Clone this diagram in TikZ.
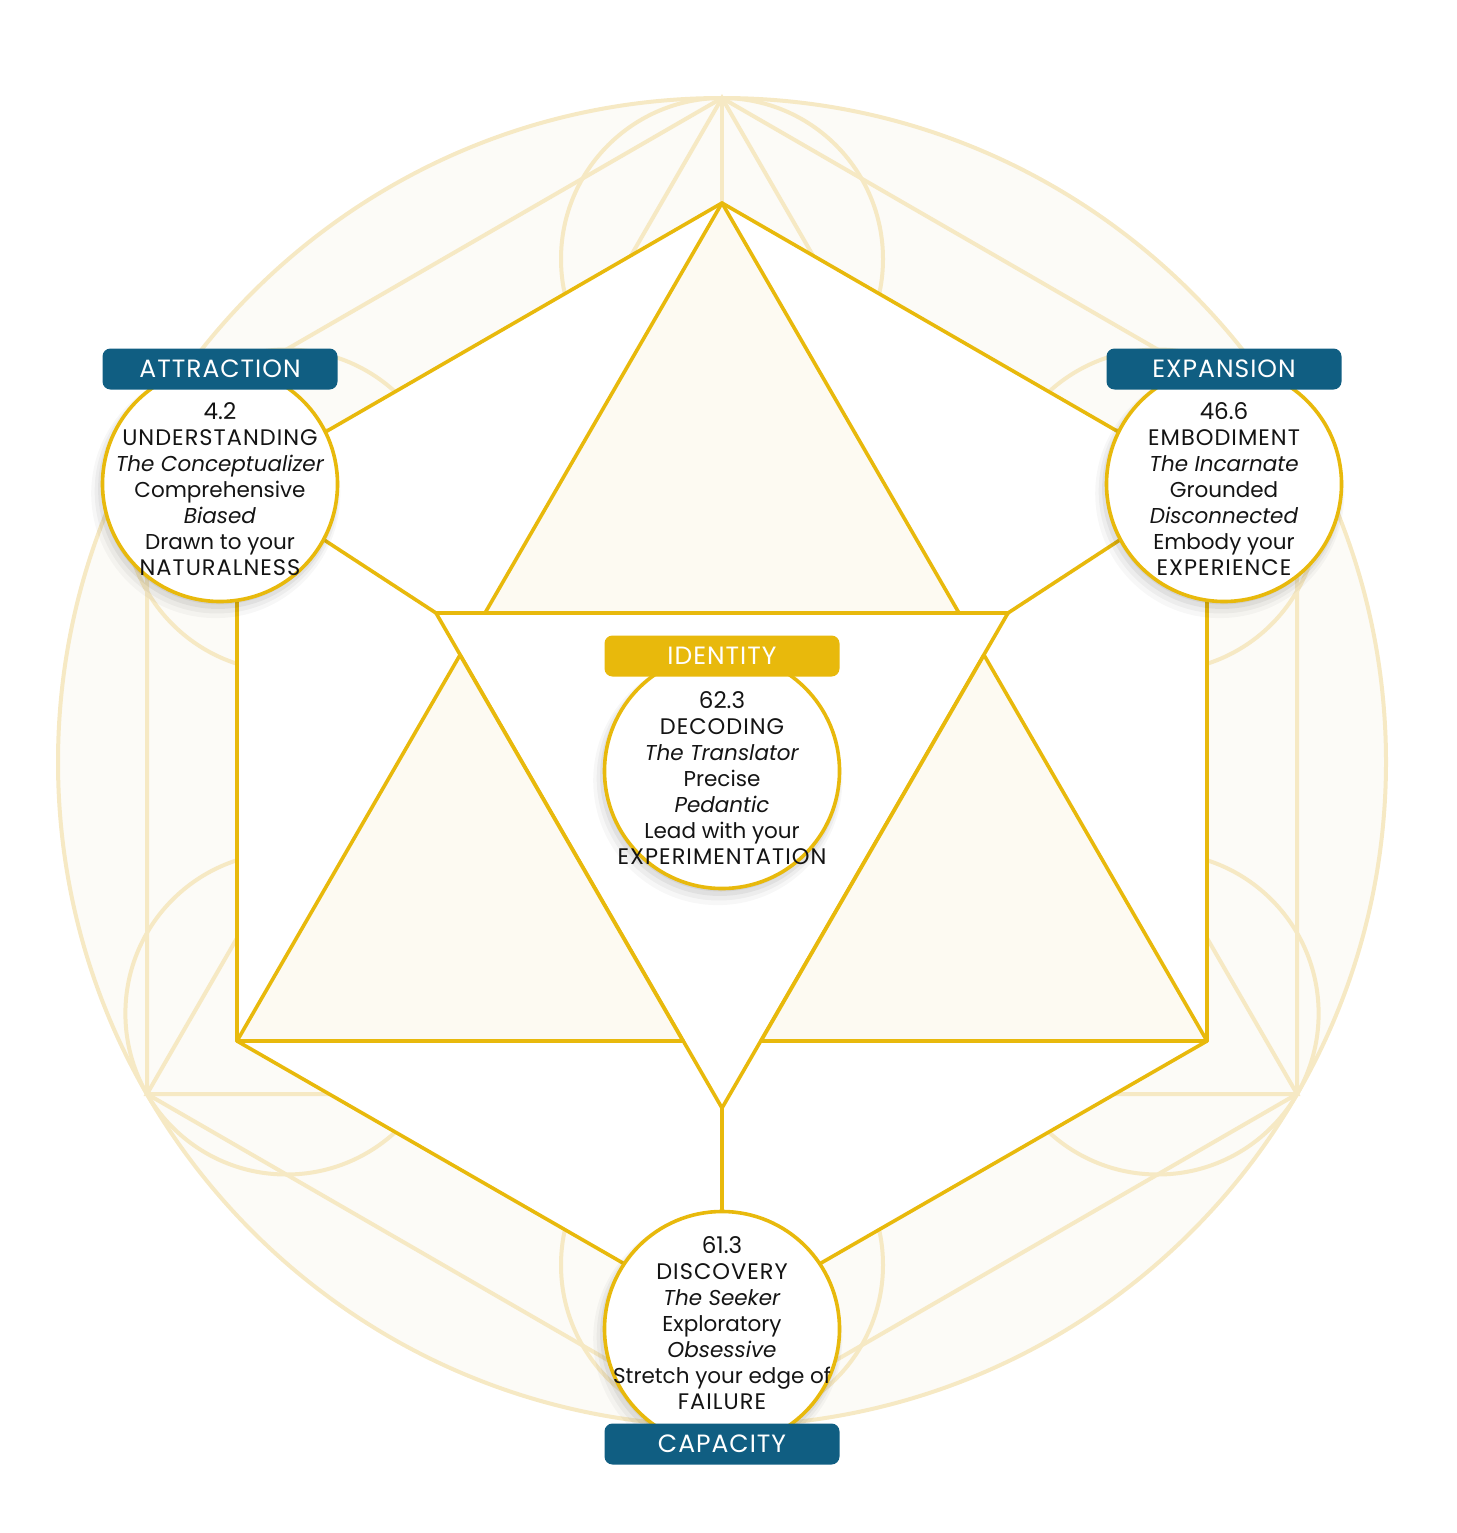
\documentclass[tikz,border=0pt]{standalone}
\usepackage{fontspec}
\setmainfont{Poppins}
\newfontfamily\capsfont[LetterSpace=4.5]{Poppins}
\newfontfamily\badgefont[LetterSpace=4]{Poppins}
\usepackage{tikz}
\usetikzlibrary{shadows,positioning}
\definecolor{gold}{RGB}{232,185,12}
\definecolor{palegold}{RGB}{246,233,196}
\definecolor{creamfill}{RGB}{252,251,247}
\definecolor{trifill}{RGB}{253,250,242}
\definecolor{petrol}{RGB}{16,94,130}
\definecolor{ink}{RGB}{20,20,20}
\newcommand{\hexw}{3.6pt}
\newcommand{\guidew}{4pt}
\newcommand{\caps}[1]{{\capsfont\fontsize{22.5}{26}\selectfont #1}}

\begin{document}
\begin{tikzpicture}[x=1pt, y=-1pt,
        guide/.style = {draw=palegold, line width=\guidew},
        hexline/.style = {draw=gold, line width=\hexw, line join=round},
        facet/.style = {circle, draw=gold, line width=\hexw, fill=white, minimum size=235pt, inner sep=0pt,
            drop shadow={shadow xshift=-1pt, shadow yshift=-3pt, shadow scale=1.00, opacity=.06, fill=black},
            drop shadow={shadow xshift=-2pt, shadow yshift=-5pt, shadow scale=1.02, opacity=.05, fill=black},
            drop shadow={shadow xshift=-3pt, shadow yshift=-7pt, shadow scale=1.04, opacity=.04, fill=black},
            drop shadow={shadow xshift=-4pt, shadow yshift=-9pt, shadow scale=1.06, opacity=.03, fill=black}},
        facettext/.style = {align=center, text=ink, font=\fontsize{21.5}{26}\selectfont},
        badge/.style = {rounded corners=8pt, fill=petrol, text=white, minimum width=235pt, minimum height=41pt,
            inner sep=0pt, font=\badgefont\fontsize{25}{25}\selectfont}]
    %\draw[help lines, step=50] (0,0) grid (1456,1533);
    \useasboundingbox (0,0) rectangle (1456,1533);

    % background figure
    \begin{scope}[shift={(722,762)}]
        \coordinate (gT) at (0,-664);
        \coordinate (gUR) at (575,-332);
        \coordinate (gR) at (575,332);
        \coordinate (gB) at (0,664);
        \coordinate (gL) at (-575,332);
        \coordinate (gUL) at (-575,-332);
        \draw[guide, fill=creamfill] (0,0) circle (664);
        \foreach \a in {30,90,...,330}
            \draw[guide] (\a:503) circle (161);
        \draw[guide] (gT) -- (gL) -- (gR) -- cycle;
        \draw[guide] (gUL) -- (gUR) -- (gB) -- cycle;
        \draw[guide] (gT) -- (gUR) -- (gR) -- (gB) -- (gL) -- (gUL) -- cycle;
        \draw[guide] (gT) -- (gB);
    \end{scope}

    % hexagon and triangles
    \coordinate (V1) at (722,203);
    \coordinate (V2) at (237,483);
    \coordinate (V3) at (237,1041);
    \coordinate (V4) at (722,1320);
    \coordinate (V5) at (1207,1041);
    \coordinate (V6) at (1207,483);
    \coordinate (I1) at (436,613);
    \coordinate (I2) at (1008,613);
    \coordinate (I3) at (722,1108);
    \coordinate (A1) at (485,613);
    \coordinate (A2) at (959,613);
    \coordinate (B1) at (460,655);
    \coordinate (B2) at (683,1041);
    \coordinate (C1) at (984,655);
    \coordinate (C2) at (761,1041);

    \draw[hexline, fill=white] (V1) -- (V2) -- (V3) -- (V4) -- (V5) -- (V6) -- cycle;
    \draw[hexline, fill=white] (I1) -- (I2) -- (I3) -- cycle;
    \draw[hexline, fill=trifill] (V1) -- (A1) -- (A2) -- cycle;
    \draw[hexline, fill=trifill] (V3) -- (B1) -- (B2) -- cycle;
    \draw[hexline, fill=trifill] (V5) -- (C1) -- (C2) -- cycle;
    \draw[hexline] (V2) -- (I1);
    \draw[hexline] (V6) -- (I2);
    \draw[hexline] (I3) -- (V4);

    % the four facets
    \node[facet] (attr) at (220,484) {};
    \node[facettext] (attrtext) at (220,489) {{\fontsize{23}{26}\selectfont 4.2}\\
        \caps{UNDERSTANDING}\\ \textit{The Conceptualizer}\\ Comprehensive\\ \textit{Biased}\\
        Drawn to your\\ \caps{NATURALNESS}};
    \node[badge, above=-25pt of attr] (attrbadge) {ATTRACTION};

    \node[facet] (expa) at (1224,484) {};
    \node[facettext] (expatext) at (1224,489) {{\fontsize{23}{26}\selectfont 46.6}\\
        \caps{EMBODIMENT}\\ \textit{The Incarnate}\\ Grounded\\ \textit{Disconnected}\\
        Embody your\\ \caps{EXPERIENCE}};
    \node[badge, above=-25pt of expa] (expabadge) {EXPANSION};

    \node[facet] (iden) at (722,771) {};
    \node[facettext] (identext) at (722,778) {{\fontsize{23}{26}\selectfont 62.3}\\
        \caps{DECODING}\\ \textit{The Translator}\\ Precise\\ \textit{Pedantic}\\
        Lead with your\\ \caps{EXPERIMENTATION}};
    \node[badge, fill=gold, above=-25pt of iden] (idenbadge) {IDENTITY};

    \node[facet] (capa) at (722,1329) {};
    \node[facettext] (capatext) at (722,1323) {{\fontsize{23}{26}\selectfont 61.3}\\
        \caps{DISCOVERY}\\ \textit{The Seeker}\\ Exploratory\\ \textit{Obsessive}\\
        Stretch your edge of\\ \caps{FAILURE}};
    \node[badge, below=-25pt of capa] (capabadge) {CAPACITY};
\end{tikzpicture}
\end{document}
